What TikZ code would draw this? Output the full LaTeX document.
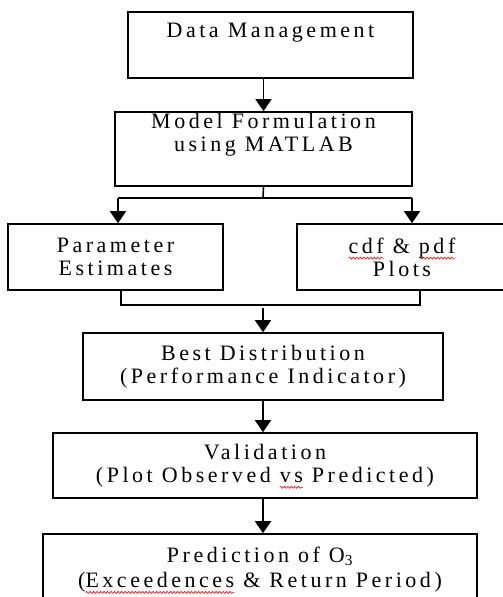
\documentclass[tikz,border=0pt]{standalone}
\usepackage{fontspec}
\setmainfont{Liberation Serif}[LetterSpace=16]
\usepackage{tikz}
\usetikzlibrary{arrows.meta, positioning, calc, decorations.pathmorphing}
\newcommand{\spellwave}[1]{\setbox0\hbox{#1}\leavevmode\rlap{\tikz[overlay]\draw[red, line width=0.6pt, decorate, decoration={snake, amplitude=1pt, segment length=3.5pt}] (0pt,-5pt) -- (\the\wd0,-5pt);}\box0}

\begin{document}
\begin{tikzpicture}[x=1pt, y=-1pt,
  box/.style={draw, line width=1.6pt, align=center, inner sep=0pt, font=\fontsize{22}{23}\selectfont},
  flow/.style={line width=1.6pt, -{Triangle[width=16pt, length=12pt]}},
  link/.style={line width=1.6pt}]
  \useasboundingbox (0,0) rectangle (503,597);
  \clip (0,0) rectangle (503,597);

  \node[box, minimum width=285, minimum height=66] (data) at (270.5,45) {Data Management\\\strut};
  \node[box, minimum width=297, minimum height=74] (model) at (263.5,149) {Model Formulation\\using MATLAB\\[4pt]\strut};
  \node[box, minimum width=215, minimum height=66] (param) at (115.5,257) {Parameter\\Estimates};
  \node[box, minimum width=210, minimum height=66] (plots) at (402,257) {\spellwave{cdf}\ \&\ \spellwave{pdf}\\Plots};
  \node[box, minimum width=360, minimum height=67] (best) at (263,366.5) {Best Distribution\\(Performance Indicator)};
  \node[box, minimum width=424, minimum height=65] (valid) at (265,465.5) {Validation\\(Plot Observed \spellwave{vs}\ Predicted)};
  \node[box, minimum width=434, minimum height=71] (pred) at (260,569.5) {Prediction of O\textsubscript{3}\\[2pt](\spellwave{Exceedences}\ \&\ Return Period)};

  \coordinate (split) at (263,198);
  \coordinate (splitL) at (118,198);
  \coordinate (splitR) at (412,198);
  \coordinate (joinL) at (121,305);
  \coordinate (joinR) at (420,305);
  \coordinate (join) at (263,308);

  \draw[flow] (model.north |- data.south) -- (model.north);
  \draw[link] (model.south) -- (split);
  \draw[link] (splitL) -- (splitR);
  \draw[flow] (splitL) -- (splitL |- param.north);
  \draw[flow] (splitR) -- (splitR |- plots.north);
  \draw[link] (joinL |- param.south) -- (joinL) -- (joinR) -- (joinR |- plots.south);
  \draw[flow] (join) -- (best.north);
  \draw[flow] (best.south) -- (best.south |- valid.north);
  \draw[flow] (best.south |- valid.south) -- (best.south |- pred.north);
\end{tikzpicture}
\end{document}
